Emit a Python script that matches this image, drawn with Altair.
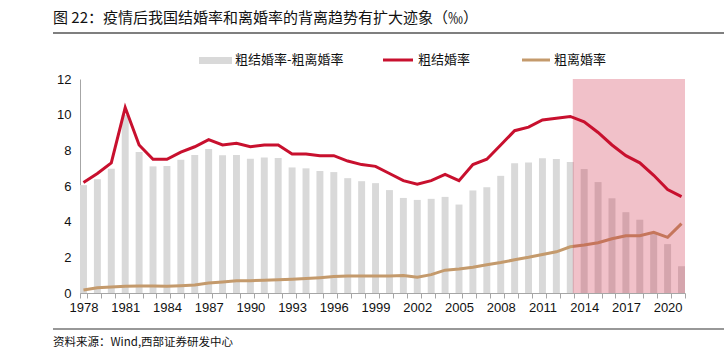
import altair as alt
import pandas as pd

years = [1978, 1979, 1980, 1981, 1982, 1983, 1984, 1985, 1986, 1987, 1988,
         1989, 1990, 1991, 1992, 1993, 1994, 1995, 1996, 1997, 1998, 1999,
         2000, 2001, 2002, 2003, 2004, 2005, 2006, 2007, 2008, 2009, 2010,
         2011, 2012, 2013, 2014, 2015, 2016, 2017, 2018, 2019, 2020, 2021]

marriage = [6.2, 6.7, 7.3, 10.4, 8.3, 7.5, 7.5, 7.9, 8.2, 8.6, 8.3,
            8.4, 8.2, 8.3, 8.3, 7.8, 7.8, 7.7, 7.7, 7.4, 7.2, 7.1,
            6.7, 6.3, 6.1, 6.3, 6.65, 6.3, 7.2, 7.5, 8.3, 9.1, 9.3,
            9.7, 9.8, 9.9, 9.6, 9.0, 8.3, 7.7, 7.3, 6.6, 5.8, 5.4]

divorce = [0.17, 0.3, 0.34, 0.38, 0.39, 0.39, 0.38, 0.41, 0.45, 0.56, 0.62,
           0.68, 0.69, 0.71, 0.74, 0.77, 0.81, 0.86, 0.92, 0.96, 0.96, 0.96,
           0.96, 0.98, 0.88, 1.03, 1.28, 1.35, 1.45, 1.58, 1.71, 1.86, 2.0,
           2.16, 2.31, 2.59, 2.69, 2.82, 3.04, 3.21, 3.21, 3.4, 3.12, 3.89]

gap = [6.05, 6.38, 6.97, 10.0, 7.9, 7.1, 7.12, 7.47, 7.74, 8.07, 7.72,
       7.74, 7.53, 7.6, 7.57, 7.04, 6.99, 6.84, 6.78, 6.44, 6.27, 6.16,
       5.77, 5.33, 5.22, 5.28, 5.39, 4.96, 5.75, 5.93, 6.57, 7.27, 7.32,
       7.55, 7.51, 7.34, 6.95, 6.22, 5.31, 4.53, 4.11, 3.31, 2.74, 1.5]

y_ticks = [0, 2, 4, 6, 8, 10, 12]
legend_labels = ["粗结婚率-粗离婚率", "粗结婚率", "粗离婚率"]
title_text = "图 22：疫情后我国结婚率和离婚率的背离趋势有扩大迹象（‰）"
source_text = "资料来源：Wind,西部证券研发中心"

df = pd.DataFrame({
    "year": [str(y) for y in years],
    "marriage": marriage,
    "divorce": divorce,
    "gap": gap,
})

W, H = 605, 214
CJK = "Noto Sans CJK SC"
NUM = "Liberation Sans"
GRAY = "#D9D9D9"
RED = "#C8102E"
TAN = "#C49A6C"
AXIS = "#A6A6A6"

x_scale = alt.Scale(paddingInner=0.5, paddingOuter=0)
x_axis = alt.Axis(
    labelAngle=0, labelFont=NUM, labelFontSize=13, labelColor="#111",
    labelPadding=3, tickBand="extent", tickSize=5, tickColor=AXIS,
    domainColor=AXIS, labelOverlap=False, grid=False,
    labelExpr="(toNumber(datum.value) - 1978) % 3 == 0 ? datum.label : ''",
)
y_scale = alt.Scale(domain=[0, 12], nice=False)
y_axis = alt.Axis(values=y_ticks, labelFont=NUM, labelFontSize=13,
                  labelColor="#111", labelPadding=9, tickSize=0,
                  labelOverlap=False, domainColor=AXIS, grid=False)


def xe():
    return alt.X("year:N", sort=None, title=None, scale=x_scale, axis=x_axis)


def ye(field):
    return alt.Y(field, type="quantitative", title=None, scale=y_scale,
                 axis=y_axis)


base = alt.Chart(df)

bars = base.mark_bar(color=GRAY).encode(x=xe(), y=ye("gap"))
div_line = base.mark_line(color=TAN, strokeWidth=3).encode(
    x=xe(), y=ye("divorce"))
mar_line = base.mark_line(color=RED, strokeWidth=3).encode(
    x=xe(), y=ye("marriage"))

one = alt.Data(values=[{"k": 1}])

shade = alt.Chart(one).mark_rect(color=RED, opacity=0.26).encode(
    x=alt.value(492.8), x2=alt.value(W), y=alt.value(0), y2=alt.value(H)
)


def text_layer(txt, x, y, size, font=CJK, color="#111", align="left"):
    return alt.Chart(one).mark_text(
        text=txt, align=align, baseline="middle", font=font,
        fontSize=size, color=color,
    ).encode(x=alt.value(x), y=alt.value(y))


def rule_layer(x1, x2, y, color, width):
    return alt.Chart(one).mark_rule(color=color, strokeWidth=width).encode(
        x=alt.value(x1), x2=alt.value(x2), y=alt.value(y)
    )


title = text_layer(title_text, -27, -61, 15)
head_rule = rule_layer(-27, 644, -46, "#555555", 1.5)
foot_rule = rule_layer(-27, 644, 250, "#333333", 1.2)
source = text_layer(source_text, -27, 264, 11.5)

leg_box = alt.Chart(one).mark_rect(color=GRAY).encode(
    x=alt.value(119), x2=alt.value(152), y=alt.value(-22), y2=alt.value(-15)
)
leg_t1 = text_layer(legend_labels[0], 155, -19, 13)
leg_r = rule_layer(303, 333, -19, RED, 3)
leg_t2 = text_layer(legend_labels[1], 338, -19, 13)
leg_tan = rule_layer(442, 470, -19, TAN, 3)
leg_t3 = text_layer(legend_labels[2], 474, -19, 13)

chart = alt.layer(
    bars, div_line, shade, mar_line,
    title, head_rule, foot_rule, source,
    leg_box, leg_t1, leg_r, leg_t2, leg_tan, leg_t3,
).properties(
    width=W, height=H,
    autosize=alt.AutoSizeParams(type="none"),
    padding={"left": 80, "top": 79, "right": 39, "bottom": 62},
    background="white",
).configure_view(stroke=None).configure_axisY(labelOverlap=False)

chart.save("out.html", embed_options={"renderer": "svg", "actions": False})
